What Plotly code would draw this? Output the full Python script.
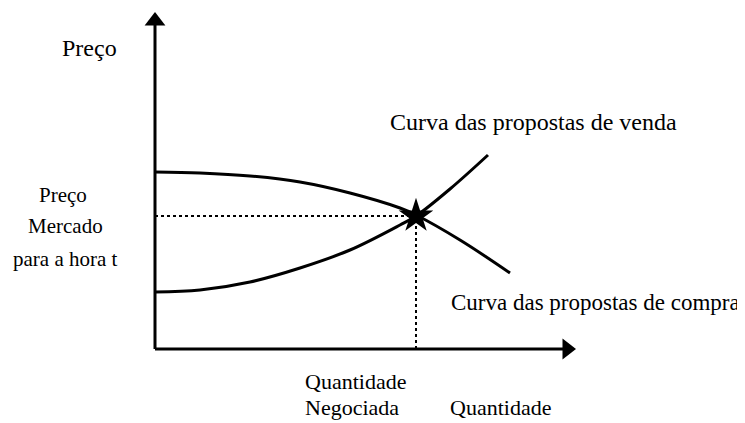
import plotly.graph_objects as go

# Data (quantity / price units; origin at the axes corner)
demand_q = [0, 45, 95, 145, 195, 245, 261, 305, 355]
demand_p = [177, 176, 173, 167, 156, 141, 134, 109, 76]
supply_q = [0, 45, 95, 145, 195, 245, 261, 295, 333]
supply_p = [57, 59, 67, 81, 99, 124, 133, 160, 194]
eq_q = [261]
eq_p = [133]
axis_q_max = 420
axis_p_max = 336

FONT = "Liberation Serif"
fig = go.Figure()

# axes
fig.add_trace(go.Scatter(x=[0, 0], y=[0, axis_p_max - 10], mode="lines",
                         line=dict(color="black", width=3), hoverinfo="skip"))
fig.add_trace(go.Scatter(x=[0, axis_q_max - 10], y=[0, 0], mode="lines",
                         line=dict(color="black", width=3), hoverinfo="skip"))
fig.add_trace(go.Scatter(x=[0], y=[axis_p_max - 8], mode="markers",
                         marker=dict(symbol="triangle-up", size=18, color="black"), hoverinfo="skip"))
fig.add_trace(go.Scatter(x=[axis_q_max - 8], y=[0], mode="markers",
                         marker=dict(symbol="triangle-right", size=18, color="black"), hoverinfo="skip"))

# dotted guides
fig.add_trace(go.Scatter(x=[0, eq_q[0]], y=[eq_p[0], eq_p[0]], mode="lines",
                         line=dict(color="black", width=2, dash="dot"), hoverinfo="skip"))
fig.add_trace(go.Scatter(x=[eq_q[0], eq_q[0]], y=[0, eq_p[0]], mode="lines",
                         line=dict(color="black", width=2, dash="dot"), hoverinfo="skip"))

# curves
fig.add_trace(go.Scatter(x=demand_q, y=demand_p, mode="lines", line_shape="spline",
                         line=dict(color="black", width=3), hoverinfo="skip"))
fig.add_trace(go.Scatter(x=supply_q, y=supply_p, mode="lines", line_shape="spline",
                         line=dict(color="black", width=3), hoverinfo="skip"))

# equilibrium star
fig.add_trace(go.Scatter(x=eq_q, y=eq_p, mode="markers",
                         marker=dict(symbol="star", size=26, color="black"), hoverinfo="skip"))

# (text, x, y, size, xanchor, yanchor)
texts = [
    ("Preço", -66, 301, 24, "center", "middle"),
    ("Preço", -92, 154, 21, "center", "middle"),
    ("Mercado", -90, 123, 21, "center", "middle"),
    ("para a hora t", -90, 90, 21, "center", "middle"),
    ("Curva das propostas de venda", 378, 227, 24, "center", "middle"),
    ("Curva das propostas de compra", 587, 47, 23, "right", "middle"),
    ("Quantidade", 200, -32, 22, "center", "middle"),
    ("Negociada", 197, -73, 22, "center", "bottom"),
    ("Quantidade", 345, -73, 22, "center", "bottom"),
]
for t, x, y, s, xa, ya in texts:
    fig.add_annotation(x=x, y=y, text=t, showarrow=False, xanchor=xa, yanchor=ya,
                       font=dict(family=FONT, size=s, color="black"))

fig.update_layout(
    width=737, height=415,
    margin=dict(l=0, r=0, t=0, b=0),
    paper_bgcolor="white", plot_bgcolor="white",
    showlegend=False,
    xaxis=dict(range=[-147, 590], visible=False),
    yaxis=dict(range=[-74, 341], visible=False),
)
fig.write_html("out.html")
